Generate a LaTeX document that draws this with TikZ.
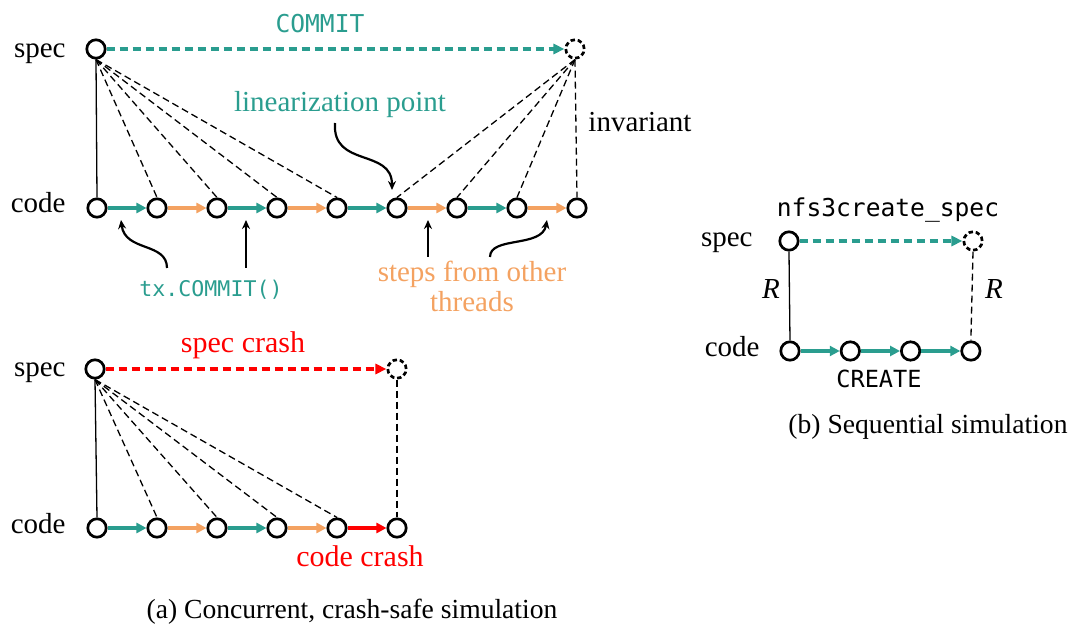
\documentclass[tikz,border=0pt]{standalone}
\usepackage{fontspec}
\setmainfont{Liberation Serif}
\setmonofont{DejaVu Sans Mono}
\usetikzlibrary{arrows.meta}
\definecolor{tealc}{RGB}{42,157,143}
\definecolor{orangec}{RGB}{244,162,97}
\definecolor{redc}{RGB}{255,0,0}
\tikzset{
  st/.style={circle,draw,line width=1.35pt,minimum size=9.2pt,inner sep=0pt,fill=white},
  ghost/.style={st,dash pattern=on 2.2pt off 1.4pt},
  stepa/.style={line width=1.7pt,-{Triangle[length=5pt,width=5pt]}},
  speca/.style={line width=1.6pt,dash pattern=on 4pt off 2.5pt,-{Triangle[length=5.5pt,width=5pt]}},
  rel/.style={line width=0.65pt,dash pattern=on 3.5pt off 2pt},
  solrel/.style={line width=0.65pt},
  ptr/.style={line width=1.1pt,-{Stealth[length=4.5pt,width=4pt]}},
  lbl/.style={font=\fontsize{14.5}{17}\selectfont,inner sep=0pt},
  captxt/.style={font=\fontsize{13.8}{16}\selectfont,inner sep=0pt},
  mono/.style={font=\fontsize{12.3}{14}\selectfont\ttfamily,inner sep=0pt},
}
\begin{document}
\begin{tikzpicture}[x=0.5pt,y=-0.5pt]
\useasboundingbox (0,0) rectangle (1073,626);

% ---------- (a) top ----------
\node[lbl,anchor=base east] (ls1) at (66,58) {spec};
\node[lbl,anchor=base east] (lc1) at (66,213) {code};
\node[st] (s) at (96,49) {};
\node[ghost] (g) at (575,49) {};
\foreach \i in {0,...,8} { \node[st] (c\i) at (97+60*\i,208) {}; }

\draw[solrel] (s.south) -- (c0.north);
\foreach \i in {1,...,4} { \draw[rel] (s.south) -- (c\i.north); }
\foreach \i in {5,...,8} { \draw[rel] (g.south) -- (c\i.north); }

\draw[speca,tealc] (s.east) -- (g.west);
\draw[stepa,tealc] (c0) -- (c1);
\draw[stepa,orangec] (c1) -- (c2);
\draw[stepa,tealc] (c2) -- (c3);
\draw[stepa,orangec] (c3) -- (c4);
\draw[stepa,tealc] (c4) -- (c5);
\draw[stepa,orangec] (c5) -- (c6);
\draw[stepa,tealc] (c6) -- (c7);
\draw[stepa,orangec] (c7) -- (c8);

\node[mono,anchor=base,text=tealc] (commit) at (320,33) {COMMIT};
\node[lbl,anchor=base,text=tealc] (lin) at (340,112) {linearization point};
\node[lbl,anchor=base] (inv) at (640,132) {invariant};

\coordinate (lpA) at (335,123);
\coordinate (lpB) at (392,190);
\draw[ptr] (lpA) .. controls (332,168) and (392,148) .. (lpB);

\node[font=\fontsize{10.8}{13}\selectfont\ttfamily,inner sep=0pt,anchor=base,text=tealc] (tx) at (211,297) {tx.COMMIT()};
\coordinate (txA) at (167,268);
\coordinate (txB) at (121,220);
\draw[ptr] (txA) .. controls (167,242) and (125,252) .. (txB);
\coordinate (txC) at (246,268);
\coordinate (txD) at (246,220);
\draw[ptr] (txC) -- (txD);

\node[lbl,anchor=base,text=orangec] (st1) at (472,282) {steps from other};
\node[lbl,anchor=base,text=orangec] (st2) at (472,312) {threads};
\coordinate (otA) at (428,257);
\coordinate (otB) at (428,220);
\draw[ptr] (otA) -- (otB);
\coordinate (otC) at (490,257);
\coordinate (otD) at (547,220);
\draw[ptr] (otC) .. controls (490,236) and (542,248) .. (otD);

% ---------- (a) bottom ----------
\node[lbl,anchor=base east] (ls2) at (66,377) {spec};
\node[lbl,anchor=base east] (lc2) at (66,533) {code};
\node[st] (bs) at (95,369) {};
\node[ghost] (bg) at (397,369) {};
\foreach \i in {0,...,5} { \node[st] (b\i) at (97+60*\i,528) {}; }
\draw[solrel] (bs.south) -- (b0.north);
\foreach \i in {1,...,4} { \draw[rel] (bs.south) -- (b\i.north); }
\draw[rel] (bg.south) -- (b5.north);
\draw[speca,redc] (bs.east) -- (bg.west);
\draw[stepa,tealc] (b0) -- (b1);
\draw[stepa,orangec] (b1) -- (b2);
\draw[stepa,tealc] (b2) -- (b3);
\draw[stepa,orangec] (b3) -- (b4);
\draw[stepa,redc] (b4) -- (b5);
\node[lbl,anchor=base,text=redc,font=\fontsize{15}{17}\selectfont] (sc) at (243,353) {spec crash};
\node[lbl,anchor=base,text=redc,font=\fontsize{15}{17}\selectfont] (cc) at (360,567) {code crash};

\node[captxt,anchor=base] (capa) at (352,618) {(a) Concurrent, crash-safe simulation};

% ---------- (b) ----------
\node[lbl,anchor=base east] (ls3) at (753,247) {spec};
\node[lbl,anchor=base east] (lc3) at (760,357) {code};
\node[st] (rs) at (789,241) {};
\node[ghost] (rg) at (973,241) {};
\foreach \i in {0,...,3} { \node[st] (k\i) at (790+60.3*\i,351) {}; }
\draw[solrel] (rs.south) -- (k0.north);
\draw[rel] (rg.south) -- (k3.north);
\draw[speca,tealc] (rs.east) -- (rg.west);
\draw[stepa,tealc] (k0) -- (k1);
\draw[stepa,tealc] (k1) -- (k2);
\draw[stepa,tealc] (k2) -- (k3);
\node[mono,anchor=base] (nfs) at (888,217) {nfs3create\_spec};
\node[lbl,anchor=base] (r1) at (771,299) {\itshape R};
\node[lbl,anchor=base] (r2) at (994,299) {\itshape R};
\node[mono,anchor=base,font=\fontsize{11.8}{14}\selectfont\ttfamily] (cr) at (879,387) {CREATE};
\node[captxt,anchor=base] (capb) at (928,433) {(b) Sequential simulation};
\end{tikzpicture}
\end{document}
